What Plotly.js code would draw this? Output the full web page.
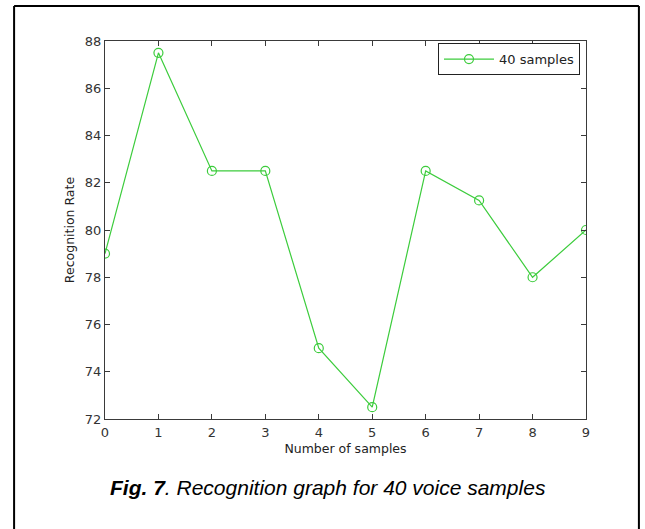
<!DOCTYPE html>
<html>
<head>
<meta charset="utf-8">
<script src="https://cdn.plot.ly/plotly-3.0.1.min.js"></script>
<style>
html,body{margin:0;padding:0;background:#fff;}
#chart{width:645px;height:529px;}
</style>
</head>
<body>
<div id="chart"></div>
<script>
const sampleIndex = [0, 1, 2, 3, 4, 5, 6, 7, 8, 9];
const recognitionRate = [79, 87.5, 82.5, 82.5, 75, 72.5, 82.5, 81.25, 78, 80];
const seriesName = '40 samples';
const xTicks = [0, 1, 2, 3, 4, 5, 6, 7, 8, 9];
const yTicks = [72, 74, 76, 78, 80, 82, 84, 86, 88];

const green = '#3ccc3c';
const axisColor = '#3a3a3a';
const fam = 'DejaVu Sans, sans-serif';
const tickFont = {family: fam, size: 13, color: '#333'};
const titleFont = {family: fam, size: 12.5, color: '#222'};

const trace = {
  x: sampleIndex,
  y: recognitionRate,
  name: seriesName,
  type: 'scatter',
  mode: 'lines+markers',
  line: {color: green, width: 1.2},
  marker: {symbol: 'circle-open', size: 9, color: green, line: {width: 1.2, color: green}}
};

const layout = {
  width: 645, height: 529,
  margin: {l: 105, r: 59, t: 41, b: 110},
  paper_bgcolor: '#fff', plot_bgcolor: '#fff',
  showlegend: true,
  legend: {
    x: 0.9875, y: 0.952, xanchor: 'right', yanchor: 'middle',
    bgcolor: '#fff', bordercolor: '#222', borderwidth: 1,
    itemwidth: 50, tracegroupgap: 0,
    font: {family: fam, size: 13, color: '#222'}
  },
  xaxis: {
    range: [0, 9], tickvals: xTicks, ticktext: xTicks.map(String),
    ticks: 'inside', ticklen: 5, tickcolor: axisColor,
    showline: true, linecolor: axisColor, linewidth: 1, mirror: 'allticks',
    showgrid: false, zeroline: false, tickfont: tickFont,
    ticklabelstandoff: 1,
    title: {text: 'Number of samples', font: titleFont, standoff: 5}
  },
  yaxis: {
    range: [72, 88], tickvals: yTicks, ticktext: yTicks.map(String),
    ticks: 'inside', ticklen: 5, tickcolor: axisColor,
    showline: true, linecolor: axisColor, linewidth: 1, mirror: 'allticks',
    showgrid: false, zeroline: false, tickfont: tickFont,
    title: {text: 'Recognition Rate', font: titleFont, standoff: 7}
  },
  shapes: [
    {type: 'line', xref: 'paper', yref: 'paper', x0: -0.189, x1: -0.189, y0: -0.32, y1: 1.0926, line: {color: '#000', width: 2}},
    {type: 'line', xref: 'paper', yref: 'paper', x0: -0.189, x1: 1.110, y0: 1.0926, y1: 1.0926, line: {color: '#000', width: 2}},
    {type: 'line', xref: 'paper', yref: 'paper', x0: 1.110, x1: 1.110, y0: -0.32, y1: 1.0926, line: {color: '#000', width: 2}}
  ],
  annotations: [{
    xref: 'paper', yref: 'paper', x: 0.4636, y: -0.1825,
    xanchor: 'center', yanchor: 'middle', showarrow: false,
    text: '<b><i>Fig. 7</i></b><i>. Recognition graph for 40 voice samples</i>',
    font: {family: 'Liberation Sans, Arial, sans-serif', size: 21, color: '#000'}
  }]
};

Plotly.newPlot('chart', [trace], layout, {displayModeBar: false, staticPlot: true});
</script>
</body>
</html>
